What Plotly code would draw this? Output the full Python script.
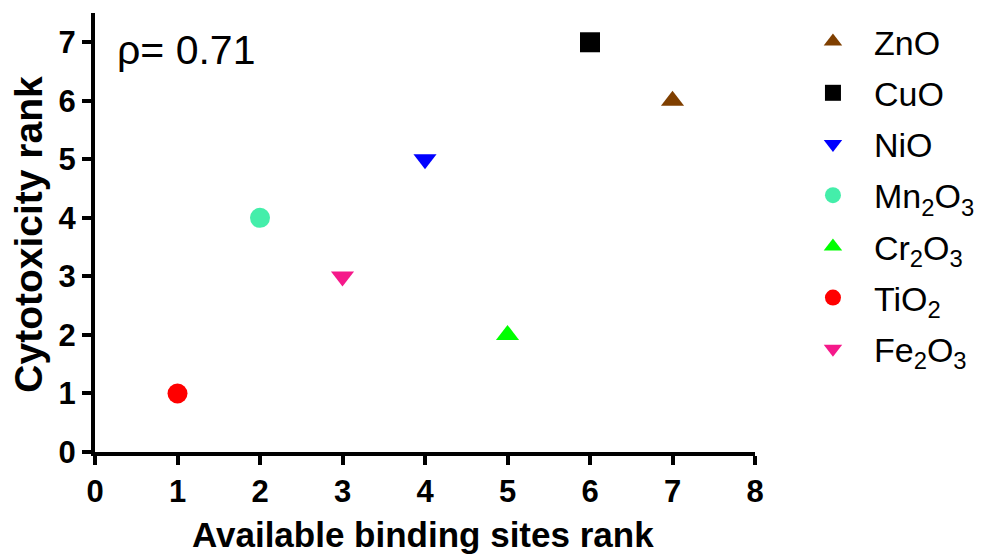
import plotly.graph_objects as go

names = ["ZnO", "CuO", "NiO", "Mn<sub>2</sub>O<sub>3</sub>", "Cr<sub>2</sub>O<sub>3</sub>", "TiO<sub>2</sub>", "Fe<sub>2</sub>O<sub>3</sub>"]
binding_rank = [7, 6, 4, 2, 5, 1, 3]
cytotox_rank = [6, 7, 5, 4, 2, 1, 3]
symbols = ["triangle-up", "square", "triangle-down", "circle", "triangle-up", "circle", "triangle-down"]
colors = ["#7F3F00", "#000000", "#0000FF", "#44EEAA", "#00FF00", "#FF0000", "#F5198A"]
x_ticks = [0, 1, 2, 3, 4, 5, 6, 7, 8]
y_ticks = [0, 1, 2, 3, 4, 5, 6, 7]
x_title = "Available binding sites rank"
y_title = "Cytotoxicity rank"
rho_text = "ρ= 0.71"

FONT = "Liberation Sans, Arial, sans-serif"

fig = go.Figure()
for i, (n, x, y, s, c) in enumerate(zip(names, binding_rank, cytotox_rank, symbols, colors)):
    fig.add_trace(go.Scatter(
        x=[x], y=[y], mode="markers", name=n, legendgroup=f"g{i}",
        marker=dict(symbol=s, color=c, size=20, line=dict(width=0)),
    ))

axis_common = dict(
    showline=True, linecolor="black", linewidth=4,
    ticks="outside", ticklen=9, tickwidth=4, tickcolor="black",
    showgrid=False, zeroline=False,
    tickfont=dict(family=FONT, size=31, color="black", weight="bold"),
)

fig.update_xaxes(range=[0, 8], tickvals=x_ticks, ticktext=[str(v) for v in x_ticks], **axis_common)
fig.update_yaxes(range=[0, 7.5], tickvals=y_ticks, ticktext=[str(v) for v in y_ticks], **axis_common)

fig.add_annotation(
    text=x_title, xref="paper", yref="paper", x=0.497, y=-0.187,
    xanchor="center", yanchor="middle", showarrow=False,
    font=dict(family=FONT, size=35, color="black", weight="bold"),
)
fig.add_annotation(
    text=y_title, xref="paper", yref="paper", x=-0.1, y=0.495, textangle=-90,
    xanchor="center", yanchor="middle", showarrow=False,
    font=dict(family=FONT, size=39, color="black", weight="bold"),
)
fig.add_annotation(
    text=rho_text, xref="paper", yref="paper", x=0.031, y=0.915,
    xanchor="left", yanchor="middle", showarrow=False,
    font=dict(family=FONT, size=41, color="black"),
)

fig.update_layout(
    width=977, height=546,
    margin=dict(l=87, r=230, t=5, b=102, autoexpand=False),
    paper_bgcolor="white", plot_bgcolor="white",
    showlegend=True,
    legend=dict(
        x=1.056, y=1.0, xanchor="left", yanchor="top",
        font=dict(family=FONT, size=34, color="black"),
        bgcolor="rgba(0,0,0,0)", itemsizing="trace", itemwidth=72,
        tracegroupgap=4,
    ),
)

fig.write_html("out.html")
